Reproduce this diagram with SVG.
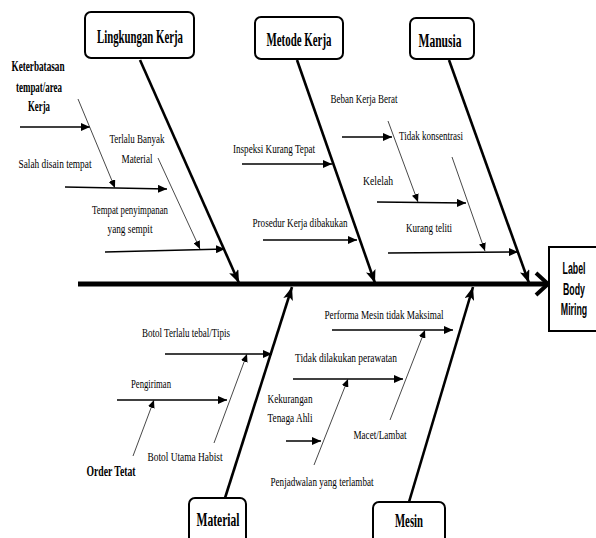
<svg xmlns="http://www.w3.org/2000/svg" width="596" height="538" viewBox="0 0 596 538">
<style>
text{font-family:"Liberation Serif","Times New Roman",serif;fill:#000;text-anchor:middle}
.t{font-size:13px}
.b{font-size:14px;font-weight:bold}
.h{font-size:18px;font-weight:bold}
.e{font-family:"Liberation Sans",Arial,sans-serif;font-size:16px;font-weight:bold}
.box{fill:#fff;stroke:#000;stroke-width:2}
.bone{stroke:#000;stroke-width:2.6;fill:none;marker-end:url(#ab)}
.sub{stroke:#000;stroke-width:1.4;fill:none;marker-end:url(#as)}
.thin{stroke:#333;stroke-width:0.9;fill:none;marker-end:url(#at)}
</style>
<defs>
<marker id="ab" markerUnits="userSpaceOnUse" markerWidth="14" markerHeight="10" refX="13" refY="5" orient="auto"><path d="M0,0 L13,5 L0,10 L3,5 z" fill="#000"/></marker>
<marker id="as" markerUnits="userSpaceOnUse" markerWidth="10" markerHeight="8" refX="9" refY="4" orient="auto"><path d="M0,0 L9,4 L0,8 z" fill="#000"/></marker>
<marker id="at" markerUnits="userSpaceOnUse" markerWidth="8" markerHeight="7" refX="8" refY="3.5" orient="auto"><path d="M0,0 L8,3.5 L0,7 z" fill="#000"/></marker>
</defs>
<g id="connectors">
<line x1="78" y1="284" x2="546" y2="284" stroke="#000" stroke-width="5"/>
<polyline points="536,273 548,284 536,295" fill="none" stroke="#000" stroke-width="4"/>
<line class="bone" x1="140" y1="60" x2="239" y2="283"/>
<line class="bone" x1="297" y1="60" x2="375" y2="283"/>
<line class="bone" x1="449" y1="60" x2="529" y2="283"/>
<line class="bone" x1="225" y1="498" x2="292" y2="287"/>
<line class="bone" x1="409" y1="502" x2="473" y2="287"/>
<line class="sub" x1="20" y1="127" x2="90" y2="127"/>
<line class="sub" x1="65" y1="187" x2="167" y2="189"/>
<line class="sub" x1="105" y1="252" x2="225" y2="249"/>
<line class="thin" x1="78" y1="99" x2="115" y2="188"/>
<line class="thin" x1="158" y1="158" x2="200" y2="249"/>
<line class="sub" x1="242" y1="164" x2="332" y2="164"/>
<line class="sub" x1="263" y1="240" x2="357" y2="240"/>
<line class="sub" x1="342" y1="137" x2="392" y2="137"/>
<line class="sub" x1="377" y1="202" x2="466" y2="203"/>
<line class="sub" x1="388" y1="253" x2="518" y2="252"/>
<line class="thin" x1="388" y1="121" x2="418" y2="202"/>
<line class="thin" x1="452" y1="157" x2="485" y2="251"/>
<line class="sub" x1="165" y1="354" x2="272" y2="354"/>
<line class="sub" x1="117" y1="400" x2="227" y2="400"/>
<line class="thin" x1="133" y1="456" x2="154" y2="400"/>
<line class="thin" x1="214" y1="443" x2="247" y2="354"/>
<line class="sub" x1="332" y1="330" x2="453" y2="330"/>
<line class="sub" x1="293" y1="379" x2="403" y2="379"/>
<line class="sub" x1="286" y1="441" x2="321" y2="441"/>
<line class="thin" x1="314" y1="465" x2="348" y2="379"/>
<line class="thin" x1="390" y1="420" x2="425" y2="330"/>
</g>
<g id="lingkungan-kerja"><rect class="box" x="85" y="12" width="109" height="46" rx="6"/><text class="h" x="140" y="43" textLength="86" lengthAdjust="spacingAndGlyphs">Lingkungan Kerja</text></g>
<g id="metode-kerja"><rect class="box" x="255" y="17" width="88" height="42" rx="6"/><text class="h" x="299" y="46" textLength="65" lengthAdjust="spacingAndGlyphs">Metode Kerja</text></g>
<g id="manusia"><rect class="box" x="410" y="18" width="64" height="41" rx="6"/><text class="h" x="440" y="47" textLength="43" lengthAdjust="spacingAndGlyphs">Manusia</text></g>
<g id="material"><rect class="box" x="189" y="498" width="57" height="50" rx="6"/><text class="h" x="218" y="526" textLength="43" lengthAdjust="spacingAndGlyphs">Material</text></g>
<g id="mesin"><rect class="box" x="373" y="502" width="72" height="46" rx="6"/><text class="h" x="409" y="527" textLength="28" lengthAdjust="spacingAndGlyphs">Mesin</text></g>
<g id="effect"><rect x="549" y="247" width="60" height="84" fill="#fff" stroke="#000" stroke-width="2"/>
<text class="e" transform="translate(574,274) scale(0.55,1)">Label</text>
<text class="e" transform="translate(574,295) scale(0.55,1)">Body</text>
<text class="e" transform="translate(574,315) scale(0.55,1)">Miring</text></g>
<g id="causes-lingkungan">
<text class="b" x="38" y="71" textLength="53" lengthAdjust="spacingAndGlyphs">Keterbatasan</text>
<text class="b" x="39" y="92" textLength="46" lengthAdjust="spacingAndGlyphs">tempat/area</text>
<text class="b" x="39" y="111" textLength="22" lengthAdjust="spacingAndGlyphs">Kerja</text>
<text class="t" x="137" y="143" textLength="55" lengthAdjust="spacingAndGlyphs">Terlalu Banyak</text>
<text class="t" x="137" y="163" textLength="31" lengthAdjust="spacingAndGlyphs">Material</text>
<text class="t" x="55" y="168" textLength="73" lengthAdjust="spacingAndGlyphs">Salah disain tempat</text>
<text class="t" x="130" y="214" textLength="76" lengthAdjust="spacingAndGlyphs">Tempat penyimpanan</text>
<text class="t" x="130" y="233" textLength="45" lengthAdjust="spacingAndGlyphs">yang sempit</text>
</g>
<g id="causes-metode">
<text class="t" x="274" y="153" textLength="82" lengthAdjust="spacingAndGlyphs">Inspeksi Kurang Tepat</text>
<text class="t" x="300" y="227" textLength="95" lengthAdjust="spacingAndGlyphs">Prosedur Kerja dibakukan</text>
</g>
<g id="causes-manusia">
<text class="t" x="364" y="103" textLength="67" lengthAdjust="spacingAndGlyphs">Beban Kerja Berat</text>
<text class="t" x="431" y="140" textLength="64" lengthAdjust="spacingAndGlyphs">Tidak konsentrasi</text>
<text class="t" x="378" y="185" textLength="30" lengthAdjust="spacingAndGlyphs">Kelelah</text>
<text class="t" x="429" y="232" textLength="46" lengthAdjust="spacingAndGlyphs">Kurang  teliti</text>
</g>
<g id="causes-material">
<text class="t" x="186" y="337" textLength="88" lengthAdjust="spacingAndGlyphs">Botol Terlalu  tebal/Tipis</text>
<text class="t" x="151" y="388" textLength="40" lengthAdjust="spacingAndGlyphs">Pengiriman</text>
<text class="b" x="111" y="476" textLength="49" lengthAdjust="spacingAndGlyphs">Order Tetat</text>
<text class="t" x="185" y="461" textLength="75" lengthAdjust="spacingAndGlyphs">Botol Utama Habist</text>
</g>
<g id="causes-mesin">
<text class="t" x="384" y="319" textLength="119" lengthAdjust="spacingAndGlyphs">Performa Mesin tidak Maksimal</text>
<text class="t" x="346" y="362" textLength="102" lengthAdjust="spacingAndGlyphs">Tidak dilakukan perawatan</text>
<text class="t" x="290" y="403" textLength="45" lengthAdjust="spacingAndGlyphs">Kekurangan</text>
<text class="t" x="290" y="422" textLength="45" lengthAdjust="spacingAndGlyphs">Tenaga Ahli</text>
<text class="t" x="380" y="439" textLength="53" lengthAdjust="spacingAndGlyphs">Macet/Lambat</text>
<text class="t" x="322" y="486" textLength="103" lengthAdjust="spacingAndGlyphs">Penjadwalan yang terlambat</text>
</g>
</svg>
